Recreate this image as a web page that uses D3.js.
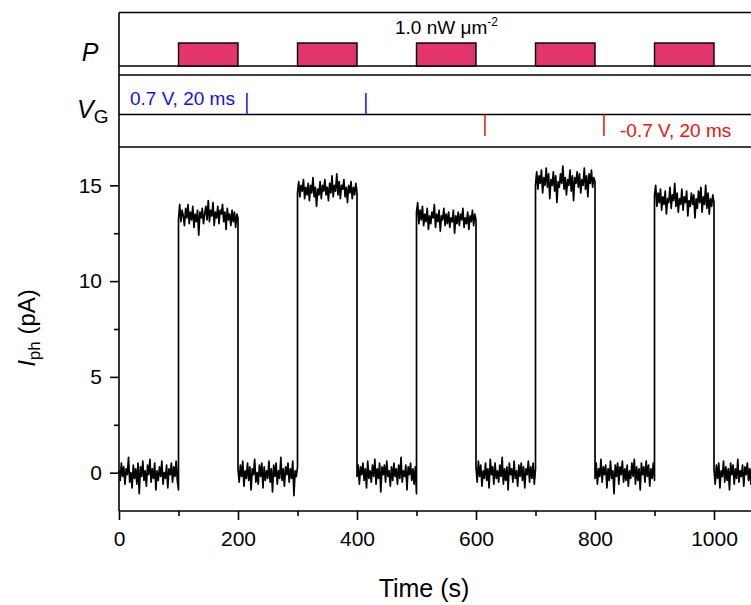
<!DOCTYPE html>
<html><head><meta charset="utf-8">
<script src="https://cdn.jsdelivr.net/npm/d3@7"></script>
<style>
body{margin:0;background:#fff;}
svg{display:block;}
text{font-family:"Liberation Sans",Arial,Helvetica,sans-serif;fill:#000;}
</style>
</head><body>
<svg id="c" width="751" height="605"></svg>
<script>
// ---------- data ----------
const pulseStarts = [100, 300, 500, 700, 900];
const pulseEnds   = [200, 400, 600, 800, 1000];
const powerLevel  = 1.0;
const gateTimes    = [215, 415, 615, 815];
const gateVoltages = [0.7, 0.7, -0.7, -0.7];
const xTicks      = [0, 200, 400, 600, 800, 1000];
const xMinorTicks = [100, 300, 500, 700, 900, 1100];
const yTicks      = [0, 5, 10, 15];
const yMinorTicks = [2.5, 7.5, 12.5];
const segStarts = [0, 100, 200, 300, 400, 500, 600, 700, 800, 900, 1000];
const segLength = 100;
// photocurrent readings (pA), one array per 100 s segment
const seg0 = [0.1,-0.4,0.5,-0.2,0.3,-0.6,0.2,-0.1,0.8,-0.5,0.0,-0.8,0.4,-0.3,0.2,-0.6,0.5,-1.1,0.3,-0.2,0.6,-0.4,0.1,-0.7,0.4,-0.1,0.7,-0.5,0.2,-0.3,0.5,-0.9,0.1,-0.4,0.3,-0.2,0.6,-0.6,0.0,-0.3,0.4,-0.8,0.2,-0.1,0.5,-0.5,0.3,-0.2,0.6,-0.4,-0.9];
const seg1 = [13.2,14.0,13.1,13.7,13.4,12.9,13.8,13.3,14.0,13.0,13.6,13.2,13.9,12.8,13.5,13.1,13.7,12.4,13.6,13.3,13.8,13.0,13.5,13.9,13.2,14.2,13.1,13.7,13.4,14.1,12.9,13.6,13.3,13.9,13.0,13.7,13.5,14.0,13.1,13.6,12.7,13.8,13.2,13.5,12.9,13.7,13.1,13.6,12.8,13.5,13.3];
const seg2 = [0.2,-0.5,0.4,-0.2,0.6,-0.7,0.1,-0.3,0.5,-0.4,0.3,-0.9,0.2,-0.1,0.7,-0.5,0.0,-0.6,0.4,-0.2,0.5,-0.8,0.3,-0.4,0.1,-0.3,0.6,-0.5,0.2,-1.0,0.4,-0.2,0.5,-0.6,0.1,-0.3,0.8,-0.4,0.2,-0.7,0.3,-0.1,0.5,-0.5,0.2,-0.3,0.6,-1.2,0.1,-0.2,0.3];
const seg3 = [14.6,15.2,14.4,15.0,14.7,15.3,14.3,14.9,14.5,15.1,14.2,15.0,14.6,15.4,14.4,14.9,13.9,14.8,14.5,15.2,14.3,15.0,14.7,15.3,14.5,14.9,14.2,15.1,14.6,15.5,14.4,15.0,14.7,15.6,14.5,15.2,14.3,15.0,14.8,15.3,14.4,14.9,14.1,15.0,14.6,15.2,14.3,14.9,14.5,15.1,14.6];
const seg4 = [-0.2,0.4,-0.6,0.3,-0.1,0.5,-0.4,0.2,-0.8,0.6,-0.3,0.1,-0.5,0.4,-0.2,0.7,-0.6,0.2,-0.3,0.5,-1.0,0.3,-0.1,0.4,-0.5,0.6,-0.2,0.1,-0.7,0.3,-0.4,0.5,-0.2,0.2,-0.6,0.4,-0.3,0.8,-0.5,0.1,-0.2,0.4,-0.9,0.3,-0.1,0.5,-0.4,0.2,-0.6,0.3,-1.1];
const seg5 = [13.6,14.1,13.0,13.7,13.2,13.9,12.9,13.5,13.1,13.8,12.7,13.4,13.0,13.6,13.3,14.0,12.8,13.5,13.1,13.7,12.6,13.4,13.2,13.8,12.9,13.5,13.0,13.6,12.8,13.3,13.1,13.7,12.5,13.4,13.0,13.6,12.9,13.5,13.2,13.8,12.8,13.3,13.0,13.6,12.7,13.4,13.1,13.7,12.9,13.5,13.2];
const seg6 = [0.3,-0.5,0.6,-0.2,0.4,-0.7,0.1,-0.3,0.5,-0.4,0.2,-0.8,0.7,-0.1,0.3,-0.6,0.5,-0.3,0.1,-0.5,0.4,-0.2,0.8,-0.6,0.2,-0.4,0.3,-0.9,0.5,-0.1,0.2,-0.5,0.6,-0.3,0.1,-0.7,0.4,-0.2,0.5,-0.4,0.3,-0.8,0.2,-0.1,0.6,-0.5,0.3,-0.3,0.5,-0.6,0.2];
const seg7 = [15.0,15.7,14.8,15.5,15.1,15.8,14.6,15.4,15.0,15.9,14.9,15.6,14.3,15.3,15.0,15.7,14.7,15.5,14.1,15.2,14.9,15.6,15.1,16.0,14.8,15.4,14.5,15.3,15.0,15.8,14.7,15.5,14.2,15.4,15.1,15.7,14.9,15.6,14.6,15.3,15.0,15.9,14.8,15.5,14.4,15.6,15.1,15.8,14.9,15.4,15.2];
const seg8 = [-0.3,0.5,-0.6,0.2,-0.2,0.7,-0.5,0.3,-0.1,0.4,-0.8,0.2,-0.4,0.6,-0.3,0.1,-1.1,0.4,-0.2,0.5,-0.6,0.3,-0.1,0.6,-0.5,0.2,-0.4,0.4,-0.7,0.1,-0.3,0.5,-0.2,0.7,-0.6,0.3,-0.4,0.2,-0.9,0.5,-0.1,0.3,-0.5,0.6,-0.2,0.4,-0.7,0.2,-0.3,0.5,-0.4];
const seg9 = [14.5,15.0,13.9,14.6,14.1,14.8,13.7,14.4,14.0,14.7,13.5,14.3,14.1,14.9,13.8,14.5,14.2,15.1,13.9,14.6,13.6,14.3,14.0,14.8,13.7,14.4,14.1,14.7,13.4,14.2,13.9,14.6,14.0,14.5,13.3,14.3,13.8,14.7,14.1,14.9,13.6,14.4,14.0,15.0,13.8,14.6,13.5,14.3,13.9,14.5,14.1];
const seg10 = [0.2,-0.6,0.4,-0.3,0.5,-0.8,0.1,-0.2,0.6,-0.5,0.3,-0.4,0.2,-0.9,0.5,-0.1,0.4,-0.6,0.2,-0.3,0.7,-0.5,0.1,-0.2,0.4,-0.7,0.3,-0.1,0.5,-0.4,0.2,-0.6,0.6,-0.3,0.1,-0.5,0.4,-0.2,0.3,-0.8,0.2,-0.1,0.5,-0.4,0.3,-0.6,0.1,-0.2,0.4,-0.5,0.2];
const segments = [seg0, seg1, seg2, seg3, seg4, seg5, seg6, seg7, seg8, seg9, seg10];

// ---------- layout ----------
const svg = d3.select("#c");
const x = d3.scaleLinear().domain([0, 1100]).range([119, 773.5]);
const y = d3.scaleLinear().domain([-2, 17]).range([511, 147]);
const pY = d3.scaleLinear().domain([0, 1]).range([66, 43]);
const vY = d3.scaleLinear().domain([-0.7, 0.7]).range([136, 93]);
const RIGHT = 760;
const FW = 1.6;

// frame lines
const hLines = [12.5, pY(0), 75, vY(0), y(17), y(-2)];
svg.selectAll("line.h").data(hLines).join("line")
  .attr("x1", x(0)).attr("x2", RIGHT).attr("y1", d => d).attr("y2", d => d)
  .attr("stroke", "#000").attr("stroke-width", FW);
svg.append("line").attr("x1", x(0)).attr("x2", x(0)).attr("y1", 12.5).attr("y2", y(-2))
  .attr("stroke", "#000").attr("stroke-width", FW);

// P pulses
svg.selectAll("rect.p").data(pulseStarts).join("rect")
  .attr("x", (d) => x(d)).attr("width", (d, i) => x(pulseEnds[i]) - x(d))
  .attr("y", pY(powerLevel)).attr("height", pY(0) - pY(powerLevel))
  .attr("fill", "#E1356B").attr("stroke", "#000").attr("stroke-width", 1.4);

// gate pulses
svg.selectAll("line.g").data(gateTimes).join("line")
  .attr("x1", d => x(d)).attr("x2", d => x(d))
  .attr("y1", vY(0)).attr("y2", (d, i) => vY(gateVoltages[i]))
  .attr("stroke", (d, i) => gateVoltages[i] > 0 ? "#1010F0" : "#F01010").attr("stroke-width", 1.5);

// trace
const pts = [];
segments.forEach((seg, k) => {
  const n = seg.length;
  seg.forEach((v, i) => pts.push([segStarts[k] + i * segLength / (n - 1), v]));
});
svg.append("path").datum(pts)
  .attr("d", d3.line().x(d => x(d[0])).y(d => y(d[1])))
  .attr("fill", "none").attr("stroke", "#000").attr("stroke-width", 1.7).attr("stroke-linejoin", "round");

// axes
const yAx = svg.append("g").attr("transform", `translate(${x(0)},0)`)
  .call(d3.axisLeft(y).tickValues(yTicks).tickSize(9).tickPadding(8).tickFormat(d3.format("d")));
const yAxMinor = svg.append("g").attr("transform", `translate(${x(0)},0)`)
  .call(d3.axisLeft(y).tickValues(yMinorTicks).tickSize(5).tickFormat(""));
const xAx = svg.append("g").attr("transform", `translate(0,${y(-2)})`)
  .call(d3.axisBottom(x).tickValues(xTicks).tickSize(9).tickPadding(11).tickFormat(d3.format("d")));
const xAxMinor = svg.append("g").attr("transform", `translate(0,${y(-2)})`)
  .call(d3.axisBottom(x).tickValues(xMinorTicks).tickSize(5).tickFormat(""));
[yAx, yAxMinor, xAx, xAxMinor].forEach(g => {
  g.select(".domain").remove();
  g.selectAll("line").attr("stroke", "#000").attr("stroke-width", FW);
  g.selectAll("text").attr("font-size", 21).attr("fill", "#000")
    .attr("font-family", '"Liberation Sans",Arial,sans-serif');
});

// labels
svg.append("text").attr("x", 424).attr("y", 597).attr("text-anchor", "middle")
  .attr("font-size", 25).text("Time (s)");

const yl = svg.append("text").attr("transform", "translate(35,328) rotate(-90)")
  .attr("text-anchor", "middle").attr("font-size", 24);
yl.append("tspan").attr("font-style", "italic").text("I");
yl.append("tspan").attr("font-size", 17).attr("dy", 5).text("ph");
yl.append("tspan").attr("dy", -5).text(" (pA)");

svg.append("text").attr("x", 90).attr("y", 61).attr("text-anchor", "middle")
  .attr("font-size", 25).attr("font-style", "italic").text("P");

const vg = svg.append("text").attr("x", 77).attr("y", 118).attr("font-size", 25);
vg.append("tspan").attr("font-style", "italic").text("V");
vg.append("tspan").attr("font-size", 19).attr("dy", 5).text("G");

const pw = svg.append("text").attr("x", 395).attr("y", 34).attr("font-size", 19);
pw.append("tspan").text("1.0 nW μm");
pw.append("tspan").attr("font-size", 12).attr("dy", -8).text("-2");

svg.append("text").attr("x", 130).attr("y", 105).attr("font-size", 19)
  .style("fill", "#1010F0").text("0.7 V, 20 ms");
svg.append("text").attr("x", 620).attr("y", 137).attr("font-size", 19)
  .style("fill", "#F01010").text("-0.7 V, 20 ms");
</script>
</body></html>
